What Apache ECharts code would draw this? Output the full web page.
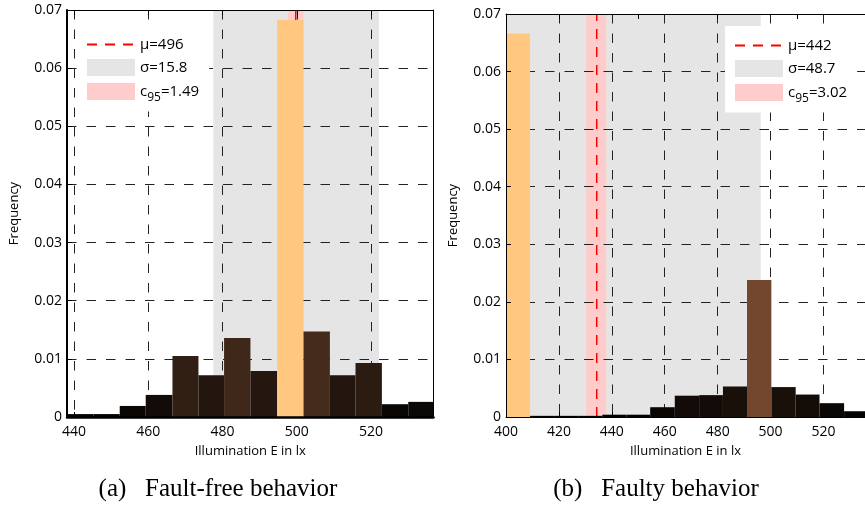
<!DOCTYPE html>
<html>
<head>
    <meta charset="utf-8">
    <title>Illumination histograms</title>
    <script src="https://cdn.jsdelivr.net/npm/echarts@6/dist/echarts.min.js"></script>
    <style>
        html, body { margin: 0; padding: 0; background: #fff; }
        #chart { width: 865px; height: 509px; }
    </style>
</head>
<body>
<div id="chart"></div>
<script>
    // (a) fault-free: bin edges (lx) and frequency per bin
    var binEdgesA = [438.1, 445.2, 452.3, 459.3, 466.5, 473.5, 480.4, 487.5, 494.7, 501.8, 508.9, 515.8, 522.9, 530.0, 536.8];
    var freqA = [0.0005, 0.0005, 0.0019, 0.0038, 0.0105, 0.0072, 0.0136, 0.0079, 0.0683, 0.0147, 0.0072, 0.0093, 0.0022, 0.0026];
    var meanA = 499.7;
    var sigmaBandA = [477.5, 522.1];
    var c95BandA = [497.6, 501.8];
    var legendA = ['μ=496', 'σ=15.8', 'c95=1.49'];

    // (b) faulty
    var binEdgesB = [400, 409.1, 418.2, 427.3, 436.4, 445.5, 454.5, 463.8, 473.0, 482.0, 491.1, 500.3, 509.5, 518.5, 527.8, 536.9];
    var freqB = [0.0666, 0.0002, 0.0002, 0.0002, 0.0004, 0.0004, 0.0017, 0.0037, 0.0038, 0.0053, 0.0238, 0.0052, 0.0039, 0.0024, 0.0010];
    var meanB = 434.3;
    var sigmaBandB = [372.0, 496.3];
    var c95BandB = [430.3, 437.9];
    var legendB = ['μ=442', 'σ=48.7', 'c95=3.02'];

    var xRangeA = [438.1, 536.8];
    var xRangeB = [400, 535.7];
    var yTicks = [0, 0.07, 0.01];

    var font = 'Open Sans';

    // matlab copper colormap
    function copper(t) {
        var r = Math.min(1, 1.25 * t), g = 0.7812 * t, b = 0.4975 * t;
        return 'rgb(' + Math.round(r * 255) + ',' + Math.round(g * 255) + ',' + Math.round(b * 255) + ')';
    }

    function histRows(edges, freq) {
        return freq.map(function (f, i) { return [edges[i], edges[i + 1], f]; });
    }

    function barRenderer(maxF) {
        return function (params, api) {
            var p0 = api.coord([api.value(0), api.value(2)]);
            var p1 = api.coord([api.value(1), 0]);
            var rect = echarts.graphic.clipRectByRect({
                x: p0[0], y: p0[1], width: p1[0] - p0[0], height: p1[1] - p0[1]
            }, params.coordSys);
            return rect && {type: 'rect', shape: rect, style: {fill: copper(api.value(2) / maxF)}};
        };
    }

    function bandItem(params, api) {
        var a = api.coord([api.value(0), 0]);
        var b = api.coord([api.value(1), 0]);
        var cs = params.coordSys;
        var rect = echarts.graphic.clipRectByRect({x: a[0], y: cs.y, width: b[0] - a[0], height: cs.height}, cs);
        return rect && {type: 'rect', shape: rect, style: {fill: api.visual('color')}};
    }

    var gridLine = {show: true, lineStyle: {color: '#222', width: 1, type: [9.5, 10]}};

    function mainX(grid, range, extra) {
        var ax = {
            type: 'value', gridIndex: grid, position: 'bottom', min: range[0], max: range[1], splitNumber: 5, z: 1,
            name: 'Illumination E in lx', nameLocation: 'middle', nameGap: 28,
            nameTextStyle: {fontFamily: font, fontSize: 13, color: '#000'},
            axisLine: {show: false},
            axisTick: {show: true, inside: true, length: 5, lineStyle: {color: '#000'}},
            axisLabel: {fontFamily: font, fontSize: 14, color: '#000', margin: 8, showMinLabel: false, showMaxLabel: false},
            splitLine: gridLine
        };
        return Object.assign(ax, extra || {});
    }

    function frameX(grid, range, pos, width) {
        return {
            type: 'value', gridIndex: grid, position: pos, min: range[0], max: range[1], splitNumber: 5, z: 5,
            axisLine: {show: true, onZero: false, lineStyle: {color: '#000', width: width}},
            axisTick: {show: pos === 'top', inside: true, length: 5, lineStyle: {color: '#000'}},
            axisLabel: {show: false}, splitLine: {show: false}
        };
    }

    function mainY(grid, width) {
        return {
            type: 'value', gridIndex: grid, position: 'left', min: yTicks[0], max: yTicks[1], interval: yTicks[2], z: 5,
            name: 'Frequency', nameLocation: 'middle', nameGap: 46,
            nameTextStyle: {fontFamily: font, fontSize: 13, color: '#000'},
            axisLine: {show: true, onZero: false, lineStyle: {color: '#000', width: width}},
            axisTick: {show: true, inside: true, length: 5, lineStyle: {color: '#000'}},
            axisLabel: {fontFamily: font, fontSize: 14, color: '#000', margin: 5,
                formatter: function (v) { return v === 0 ? '0' : v.toFixed(2); }},
            splitLine: {show: false}
        };
    }

    // horizontal dashed grid lines only (under the bars)
    function gridY(grid) {
        return {
            type: 'value', gridIndex: grid, position: 'left', min: yTicks[0], max: yTicks[1], interval: yTicks[2], z: 1,
            axisLine: {show: false, onZero: false}, axisTick: {show: false}, axisLabel: {show: false},
            splitLine: gridLine
        };
    }

    function legendBox(names, left, top) {
        return {
            orient: 'vertical', left: left, top: top, backgroundColor: '#fff',
            padding: [12, 10, 8, 9], itemWidth: 48, itemHeight: 17, itemGap: 7, selectedMode: false,
            data: [{name: names[0], itemStyle: {opacity: 0}},
                   {name: names[1], icon: 'rect'}, {name: names[2], icon: 'rect'}],
            formatter: function (name) {
                if (name.indexOf('c95') === 0) return '{n|c}{s|95}{n|' + name.slice(3) + '}';
                return '{n|' + name + '}';
            },
            textStyle: {
                fontFamily: font, fontSize: 15, color: '#000',
                rich: {n: {fontFamily: font, fontSize: 15, color: '#000'},
                       s: {fontFamily: font, fontSize: 12, color: '#000', padding: [12, 0, 0, 0]}}
            }
        };
    }

    function panelSeries(xi, yi, names, sigma, c95, mean, edges, freq) {
        return [
            {name: names[1], type: 'custom', xAxisIndex: xi, yAxisIndex: yi, z: 0, renderItem: bandItem,
             itemStyle: {color: '#e5e5e5'}, encode: {x: [0, 1]}, data: [sigma], silent: true},
            {name: names[2], type: 'custom', xAxisIndex: xi, yAxisIndex: yi, z: 0, renderItem: bandItem,
             itemStyle: {color: '#ffcccc'}, encode: {x: [0, 1]}, data: [c95], silent: true},
            {name: names[0], type: 'line', xAxisIndex: xi, yAxisIndex: yi, z: 0, symbol: 'none', silent: true,
             itemStyle: {color: '#ff0000'}, lineStyle: {color: '#ff0000', width: 1.5, type: [10, 8]},
             data: [[mean, yTicks[0]], [mean, yTicks[1]]]},
            {name: 'hist', type: 'custom', xAxisIndex: xi, yAxisIndex: yi, z: 3,
             renderItem: barRenderer(Math.max.apply(null, freq)),
             encode: {x: [0, 1], y: 2}, data: histRows(edges, freq), silent: true}
        ];
    }

    var chart = echarts.init(document.getElementById('chart'));
    chart.setOption({
        animation: false,
        grid: [
            {left: 67, top: 10, width: 366.5, height: 407},
            {left: 506, top: 14, width: 359, height: 403}
        ],
        xAxis: [
            mainX(0, xRangeA),
            frameX(0, xRangeA, 'top', 1),
            frameX(0, xRangeA, 'bottom', 2.5),
            mainX(1, xRangeB, {interval: 20, axisLabel: {fontFamily: font, fontSize: 14, color: '#000', margin: 8, showMinLabel: true, showMaxLabel: false}}),
            frameX(1, xRangeB, 'top', 1),
            frameX(1, xRangeB, 'bottom', 1)
        ],
        yAxis: [
            gridY(0),
            mainY(0, 2),
            {type: 'value', gridIndex: 0, position: 'right', min: yTicks[0], max: yTicks[1], interval: yTicks[2], z: 5,
             axisLine: {show: true, onZero: false, lineStyle: {color: '#000', width: 1}},
             axisTick: {show: false}, axisLabel: {show: false}, splitLine: {show: false}},
            gridY(1),
            mainY(1, 1)
        ],
        legend: [
            legendBox(legendA, 77, 25),
            legendBox(legendB, 725, 26)
        ],
        series: [].concat(
            panelSeries(0, 0, legendA, sigmaBandA, c95BandA, meanA, binEdgesA, freqA),
            panelSeries(3, 3, legendB, sigmaBandB, c95BandB, meanB, binEdgesB, freqB)
        ),
        graphic: [
            {type: 'text', x: 218, y: 489, style: {text: '(a)   Fault-free behavior', fill: '#000',
                font: '25px "Liberation Serif"', textAlign: 'center', textVerticalAlign: 'middle'}},
            {type: 'text', x: 656, y: 489, style: {text: '(b)   Faulty behavior', fill: '#000',
                font: '25px "Liberation Serif"', textAlign: 'center', textVerticalAlign: 'middle'}}
        ]
    });
</script>
</body>
</html>
